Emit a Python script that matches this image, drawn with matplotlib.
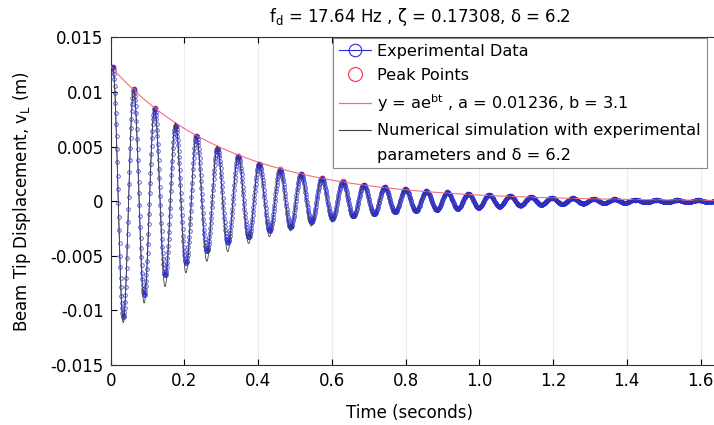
import numpy as np
import matplotlib
matplotlib.use("Agg")
from matplotlib import pyplot as plt
from matplotlib.lines import Line2D

# parameters printed on the chart
fd = 17.64          # damped frequency (Hz)
a_fit = 0.01236     # y = a e^(-b t)
b_fit = 3.1
t0 = 0.006
t_end = 1.68

# experimental peaks and troughs, one per cycle
peak_v = [0.0123, 0.0103, 0.0085, 0.0069, 0.0060, 0.0048, 0.0041, 0.0034,
          0.0029, 0.0025, 0.0021, 0.0018, 0.0015, 0.0013, 0.0011, 0.0009,
          0.0008, 0.0007, 0.0006, 0.0005, 0.0004, 0.00033, 0.00027, 0.00022,
          0.00018, 0.00015, 0.00012, 0.0001, 0.00009, 0.00008]
trough_v = [-0.0106, -0.0086, -0.0068, -0.0057, -0.0046, -0.0038, -0.0033,
            -0.0027, -0.0024, -0.0019, -0.0016, -0.0014, -0.0012, -0.0010,
            -0.0009, -0.0008, -0.0007, -0.0006, -0.0005, -0.0004, -0.00033,
            -0.00027, -0.00022, -0.00018, -0.00015, -0.00012, -0.0001,
            -0.00009, -0.00008, -0.00007]

xtick_vals = [0, 0.2, 0.4, 0.6, 0.8, 1.0, 1.2, 1.4, 1.6]
xtick_labels = ['0', '0.2', '0.4', '0.6', '0.8', '1.0', '1.2', '1.4', '1.6']
ytick_vals = [0.015, 0.01, 0.005, 0, -0.005, -0.01, -0.015]
ytick_labels = ['0.015', '0.01', '0.005', '0', '-0.005', '-0.01', '-0.015']


def experimental(t):
    # half-cosine between successive extremes
    ext_v = []
    for p, q in zip(peak_v, trough_v):
        ext_v += [p, q]
    ext_t = t0 + np.arange(len(ext_v)) / (2 * fd)
    y = np.zeros_like(t)
    for i, ti in enumerate(t):
        j = np.searchsorted(ext_t, ti) - 1
        if j < 0:
            y[i] = ext_v[0]
            continue
        j = min(j, len(ext_v) - 2)
        v1, v2 = ext_v[j], ext_v[j + 1]
        ph = (ti - ext_t[j]) / (ext_t[j + 1] - ext_t[j])
        y[i] = (v1 + v2) / 2 + (v1 - v2) / 2 * np.cos(np.pi * ph)
    return y


plt.rcParams['font.family'] = 'DejaVu Sans'
plt.rcParams['axes.unicode_minus'] = False
plt.rcParams['mathtext.fontset'] = 'dejavusans'

fig = plt.figure(figsize=(7.14, 4.25), dpi=100)
ax = fig.add_axes([0.155, 0.1412, 0.8674, 0.771])

t_exp = np.arange(0, t_end, 0.001)
y_exp = experimental(t_exp)
peak_t = t0 + np.arange(len(peak_v)) / fd

t_sim = np.arange(0, t_end, 0.0002)
y_sim = a_fit * np.exp(-b_fit * t_sim) * np.cos(2 * np.pi * fd * (t_sim - t0))
y_fit = a_fit * np.exp(-b_fit * t_sim)

ax.plot(peak_t, peak_v, 'o', mfc='none', mec='#ff2a4a', ms=3.5, mew=0.7, zorder=1)
ax.plot(t_exp, y_exp, '-o', color='#2a2ad8', lw=0.6, ms=2.6, mfc='none',
        mew=0.6, alpha=0.85, zorder=2)
ax.plot(t_sim, y_fit, color='#f07080', lw=0.8, zorder=3)
ax.plot(t_sim, y_sim, color='#404040', lw=0.6, zorder=4)

ax.set_xlim(0, t_end)
ax.set_ylim(-0.015, 0.015)
ax.set_xticks(xtick_vals)
ax.set_xticklabels(xtick_labels)
ax.set_yticks(ytick_vals)
ax.set_yticklabels(ytick_labels)
ax.tick_params(direction='in', length=4, width=0.8, labelsize=12,
               top=True, right=False, pad=5)
ax.grid(axis='x', color='#ececec', lw=0.8)
ax.set_axisbelow(True)
for s in ['left', 'bottom', 'top']:
    ax.spines[s].set_color('#333333')
ax.spines['right'].set_visible(False)

ax.set_title(r'f$_\mathrm{d}$ = 17.64 Hz , ζ = 0.17308, δ = 6.2',
             fontsize=12, pad=11)
ax.set_xlabel('Time (seconds)', fontsize=12)
ax.set_ylabel(r'Beam Tip Displacement, v$_\mathrm{L}$ (m)', fontsize=12)
ax.yaxis.set_label_coords(-0.125, 0.5)
ax.xaxis.set_label_coords(0.483, -0.12)

handles = [
    Line2D([], [], color='#2a2ad8', lw=0.8, marker='o', ms=9, mfc='none', mew=0.8),
    Line2D([], [], ls='none', marker='o', ms=10, mfc='none', mec='#ff2a4a', mew=0.8),
    Line2D([], [], color='#f07080', lw=0.9),
    Line2D([], [], color='#404040', lw=0.8),
    Line2D([], [], color='none'),
]
labels = ['Experimental Data', 'Peak Points',
          r'y = ae$^{\mathrm{bt}}$ , a = 0.01236, b = 3.1',
          'Numerical simulation with experimental',
          'parameters and δ = 6.2']
leg = ax.legend(handles, labels, loc='upper left',
                bbox_to_anchor=(333 / 714, 1 - 38 / 425),
                bbox_transform=fig.transFigure, fontsize=11.6,
                fancybox=False, edgecolor='#888888', framealpha=1,
                borderpad=0.35, labelspacing=0.58, handlelength=2.0,
                handletextpad=0.4, borderaxespad=0)
leg.get_frame().set_linewidth(0.8)

fig.savefig('out.png', dpi=100)
